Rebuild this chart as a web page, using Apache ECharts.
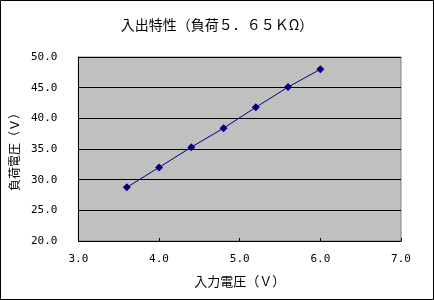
<!DOCTYPE html>
<html><head><meta charset="utf-8">
<script src="https://cdn.jsdelivr.net/npm/echarts@6/dist/echarts.min.js"></script>
<style>html,body{margin:0;padding:0;background:#fff}#c{width:434px;height:300px}</style>
</head><body><div id="c"></div>
<script>
const titleText = '入出特性（負荷５．６５ＫΩ）';
const xName = '入力電圧（Ｖ）';
const yName = '負荷電圧（Ｖ）';
const inputV = [3.6, 4.0, 4.4, 4.8, 5.2, 5.6, 6.0];
const loadV = [28.75, 32.0, 35.3, 38.4, 41.8, 45.1, 48.0];
const xMin = 3, xMax = 7, xStep = 1;
const yMin = 20, yMax = 50, yStep = 5;

const font = '"Noto Sans CJK JP", sans-serif';
const chart = echarts.init(document.getElementById('c'));
chart.setOption({
  animation: false,
  backgroundColor: '#fff',
  title: { text: titleText, left: 'center', top: 13,
    textStyle: { fontFamily: font, fontSize: 14, fontWeight: 'normal', color: '#000' } },
  grid: { left: 78, top: 57, right: 33, bottom: 59, show: true,
    backgroundColor: '#c0c0c0', borderColor: '#808080', borderWidth: 1 },
  graphic: [{ type: 'rect', shape: { x: 0.5, y: 0.5, width: 433, height: 299 },
    style: { fill: 'none', stroke: '#000', lineWidth: 1 }, z: 100 }],
  xAxis: { type: 'value', min: xMin, max: xMax, interval: xStep,
    name: xName, nameLocation: 'middle', nameGap: 34,
    nameTextStyle: { fontFamily: font, fontSize: 13, color: '#000' },
    axisLine: { lineStyle: { color: '#000', width: 1 } },
    axisTick: { inside: true, length: 3, lineStyle: { color: '#000' } },
    splitLine: { show: false },
    axisLabel: { formatter: v => v.toFixed(1), margin: 13,
      fontFamily: '"DejaVu Sans Mono", monospace', fontSize: 11, color: '#000' } },
  yAxis: { type: 'value', min: yMin, max: yMax, interval: yStep,
    name: yName, nameLocation: 'middle', nameGap: 48,
    nameTextStyle: { fontFamily: font, fontSize: 12, color: '#000' },
    axisLine: { show: true, lineStyle: { color: '#000', width: 1 } },
    axisTick: { show: true, inside: true, length: 3, lineStyle: { color: '#000' } },
    splitLine: { show: true, lineStyle: { color: '#000', width: 1 } },
    axisLabel: { formatter: v => v.toFixed(1), margin: 21,
      fontFamily: '"DejaVu Sans Mono", monospace', fontSize: 11, color: '#000' } },
  series: [{ type: 'line', data: inputV.map((x, i) => [x, loadV[i]]),
    symbol: 'diamond', symbolSize: 8,
    itemStyle: { color: '#000080' },
    lineStyle: { color: '#000080', width: 1 } }]
});
</script></body></html>
